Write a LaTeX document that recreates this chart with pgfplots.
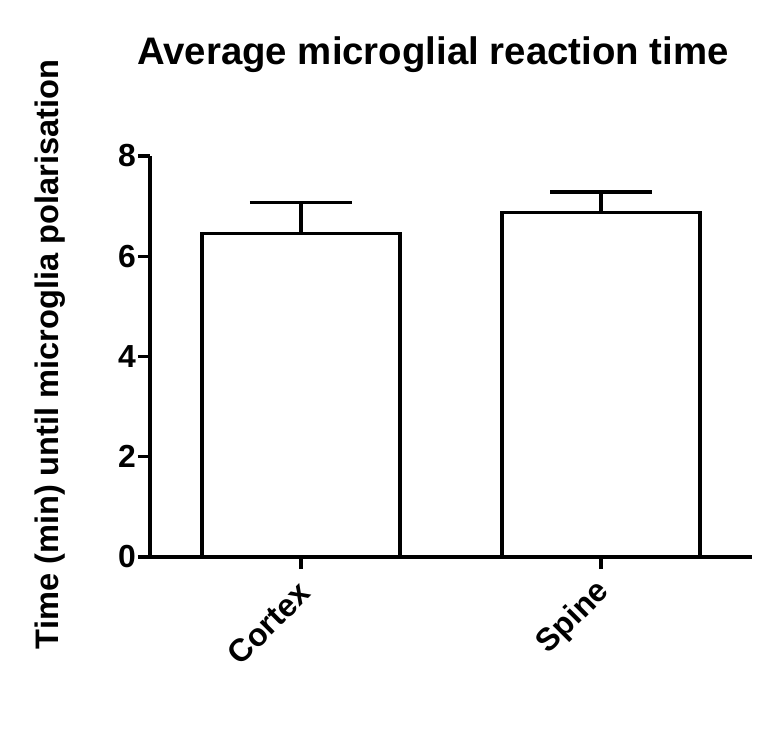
\documentclass[border=0pt]{standalone}
\usepackage{fontspec}
\setmainfont{Liberation Sans}
\usepackage{pgfplots}
\pgfplotsset{compat=1.18}
\begin{document}
\begin{tikzpicture}
\begin{axis}[
  name=ax,
  scale only axis,
  width=602bp, height=401bp,
  xmin=-0.503, xmax=1.503,
  ymin=0, ymax=8,
  axis x line*=bottom,
  axis y line*=left,
  axis line style={line width=3.3bp, black, -},
  ytick={0,2,4,6,8},
  xtick={0,1},
  xticklabels={Cortex,Spine},
  tick align=outside,
  major tick length=12bp,
  tick style={line width=3.3bp, black},
  /pgf/number format/assume math mode=true,
  tick label style={font=\bfseries\fontsize{32}{32}\selectfont},
  x tick label style={xshift=5bp, yshift=-17bp, rotate=45, anchor=east, inner sep=2bp},
  y tick label style={inner sep=2bp},
  title={Average microglial reaction time},
  title style={font=\bfseries\fontsize{38.5}{38.5}\selectfont, at={(axis description cs:0.470,1.237)}, anchor=center, inner sep=0pt},
  ylabel={Time (min) until microglia polarisation},
  ylabel style={font=\bfseries\fontsize{32.7}{32.7}\selectfont, at={(axis description cs:-0.166,0.505)}, anchor=center, inner sep=0pt},
  clip=false,
]
\addplot[ybar, bar width=198bp, draw=black, fill=white, line width=3.3bp,
  error bars/.cd, y dir=plus, y explicit,
  error mark=|,
  error bar style={line width=3.3bp, black},
  error mark options={line width=3.3bp, mark size=51bp, black}]
  coordinates {(0,6.45) +- (0,0.62) (1,6.87) +- (0,0.41)};
\end{axis}
\pgfresetboundingbox
\path[use as bounding box] ([xshift=-150bp,yshift=-182bp]ax.south west) rectangle ++(771bp,739bp);
\end{tikzpicture}
\end{document}
